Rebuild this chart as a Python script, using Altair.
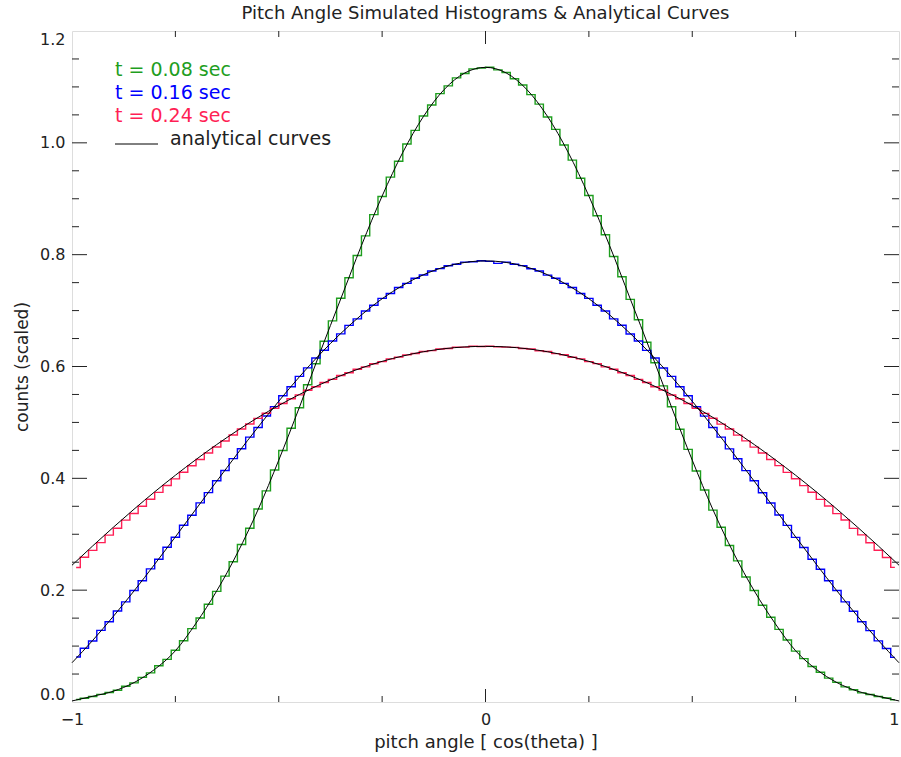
import altair as alt
import pandas as pd

FONT = "DejaVu Sans"
INK = "#222222"

# ---------------- data ----------------
# histogram bin centres (100 bins of width 0.02 on [-1, 1]) and curve sample points
hist_x = [round(-0.99 + 0.02 * i, 2) for i in range(100)]
curve_x = [round(-1.0 + 0.05 * i, 2) for i in range(41)]

series_labels = ["t = 0.08 sec", "t = 0.16 sec", "t = 0.24 sec"]
series_colors = ["#1e9e1e", "#0000ff", "#ff1f55"]

hist_008 = [
    0.0045, 0.0068, 0.0098, 0.0136, 0.0171, 0.0210, 0.0281, 0.0342, 0.0440, 0.0521,
    0.0648, 0.0762, 0.0925, 0.1095, 0.1312, 0.1502, 0.1748, 0.1979, 0.2251, 0.2507,
    0.2817, 0.3108, 0.3452, 0.3776, 0.4150, 0.4498, 0.4895, 0.5261, 0.5673, 0.6049,
    0.6452, 0.6816, 0.7221, 0.7588, 0.7985, 0.8336, 0.8716, 0.9039, 0.9386, 0.9671,
    0.9978, 1.0222, 1.0481, 1.0676, 1.0880, 1.1018, 1.1162, 1.1241, 1.1322, 1.1338,
    1.1352, 1.1305, 1.1258, 1.1146, 1.1035, 1.0862, 1.0693, 1.0463, 1.0241, 0.9960,
    0.9690, 0.9366, 0.9057, 0.8696, 0.8355, 0.7968, 0.7606, 0.7201, 0.6835, 0.6434,
    0.6067, 0.5653, 0.5280, 0.4878, 0.4517, 0.4132, 0.3792, 0.3431, 0.3126, 0.2800,
    0.2523, 0.2236, 0.1994, 0.1730, 0.1516, 0.1298, 0.1108, 0.0910, 0.0776, 0.0635,
    0.0532, 0.0427, 0.0351, 0.0270, 0.0220, 0.0163, 0.0133, 0.0099, 0.0072, 0.0039,
]
hist_016 = [
    0.0805, 0.0962, 0.1092, 0.1281, 0.1436, 0.1628, 0.1790, 0.1995, 0.2168, 0.2380,
    0.2552, 0.2768, 0.2946, 0.3160, 0.3341, 0.3562, 0.3744, 0.3957, 0.4139, 0.4352,
    0.4528, 0.4737, 0.4909, 0.5114, 0.5282, 0.5476, 0.5638, 0.5824, 0.5975, 0.6151,
    0.6290, 0.6455, 0.6583, 0.6736, 0.6852, 0.6992, 0.7096, 0.7219, 0.7306, 0.7413,
    0.7486, 0.7577, 0.7636, 0.7709, 0.7750, 0.7803, 0.7829, 0.7866, 0.7872, 0.7891,
    0.7880, 0.7845, 0.7866, 0.7828, 0.7804, 0.7748, 0.7709, 0.7634, 0.7578, 0.7486,
    0.7414, 0.7306, 0.7219, 0.7095, 0.6993, 0.6851, 0.6737, 0.6582, 0.6456, 0.6289,
    0.6151, 0.5974, 0.5823, 0.5637, 0.5477, 0.5281, 0.5113, 0.4908, 0.4737, 0.4527,
    0.4350, 0.4138, 0.3956, 0.3742, 0.3560, 0.3343, 0.3159, 0.2945, 0.2764, 0.2553,
    0.2375, 0.2168, 0.1993, 0.1790, 0.1624, 0.1436, 0.1277, 0.1094, 0.0958, 0.0798,
]
hist_024 = [
    0.2405, 0.2588, 0.2712, 0.2851, 0.2985, 0.3108, 0.3252, 0.3371, 0.3502, 0.3626,
    0.3748, 0.3872, 0.3990, 0.4108, 0.4225, 0.4338, 0.4452, 0.4561, 0.4668, 0.4775,
    0.4881, 0.4972, 0.5072, 0.5163, 0.5251, 0.5339, 0.5422, 0.5492, 0.5576, 0.5639,
    0.5713, 0.5770, 0.5838, 0.5889, 0.5951, 0.5994, 0.6049, 0.6088, 0.6136, 0.6167,
    0.6208, 0.6232, 0.6267, 0.6284, 0.6312, 0.6322, 0.6343, 0.6347, 0.6361, 0.6357,
    0.6363, 0.6354, 0.6346, 0.6342, 0.6322, 0.6313, 0.6283, 0.6268, 0.6231, 0.6209,
    0.6166, 0.6137, 0.6087, 0.6051, 0.5993, 0.5952, 0.5888, 0.5839, 0.5769, 0.5714,
    0.5638, 0.5577, 0.5491, 0.5423, 0.5338, 0.5252, 0.5162, 0.5074, 0.4970, 0.4883,
    0.4773, 0.4670, 0.4559, 0.4454, 0.4336, 0.4227, 0.4106, 0.3993, 0.3869, 0.3751,
    0.3623, 0.3505, 0.3368, 0.3255, 0.3105, 0.2988, 0.2848, 0.2715, 0.2585, 0.2408,
]

curve_008 = [
    0.0019, 0.0102, 0.0193, 0.0347, 0.0584, 0.0916, 0.1409, 0.1987, 0.2664, 0.3440,
    0.4325, 0.5272, 0.6254, 0.7210, 0.8163, 0.9048, 0.9829, 1.0472, 1.0953, 1.1250,
    1.1350,
    1.1250, 1.0953, 1.0472, 0.9829, 0.9048, 0.8163, 0.7210, 0.6254, 0.5272, 0.4325,
    0.3440, 0.2664, 0.1987, 0.1409, 0.0916, 0.0584, 0.0347, 0.0193, 0.0102, 0.0019,
]
curve_016 = [
    0.0702, 0.1101, 0.1532, 0.1986, 0.2464, 0.2953, 0.3452, 0.3948, 0.4440, 0.4917,
    0.5379, 0.5816, 0.6222, 0.6591, 0.6923, 0.7212, 0.7451, 0.7641, 0.7778, 0.7861,
    0.7888,
    0.7861, 0.7778, 0.7641, 0.7451, 0.7212, 0.6923, 0.6591, 0.6222, 0.5816, 0.5379,
    0.4917, 0.4440, 0.3948, 0.3452, 0.2953, 0.2464, 0.1986, 0.1532, 0.1101, 0.0702,
]
curve_024 = [
    0.2446, 0.2791, 0.3125, 0.3448, 0.3759, 0.4055, 0.4337, 0.4604, 0.4855, 0.5089,
    0.5303, 0.5500, 0.5678, 0.5836, 0.5974, 0.6092, 0.6188, 0.6264, 0.6318, 0.6350,
    0.6360,
    0.6350, 0.6318, 0.6264, 0.6188, 0.6092, 0.5974, 0.5836, 0.5678, 0.5500, 0.5303,
    0.5089, 0.4855, 0.4604, 0.4337, 0.4055, 0.3759, 0.3448, 0.3125, 0.2791, 0.2446,
]

# axis tick values
x_label_values = [-1, 0, 1]
x_major_ticks = [0.0]
x_minor_ticks = [-0.75, -0.5, -0.25, 0.25, 0.5, 0.75]
y_label_values = [0.0, 0.2, 0.4, 0.6, 0.8, 1.0, 1.2]
y_major_ticks = [0.2, 0.4, 0.6, 0.8, 1.0]
y_minor_ticks = [0.05, 0.10, 0.15, 0.25, 0.30, 0.35, 0.45, 0.50, 0.55,
                 0.65, 0.70, 0.75, 0.85, 0.90, 0.95, 1.05, 1.10, 1.15]

title_text = "Pitch Angle Simulated Histograms & Analytical Curves"
x_title = "pitch angle [ cos(theta) ]"
y_title = "counts (scaled)"
curve_label = "analytical curves"

# ---------------- tables ----------------
hist_df = pd.DataFrame({
    "x": hist_x * 3,
    "v": hist_008 + hist_016 + hist_024,
    "series": [series_labels[0]] * 100 + [series_labels[1]] * 100 + [series_labels[2]] * 100,
})
curve_df = pd.DataFrame({
    "x": curve_x * 3,
    "v": curve_008 + curve_016 + curve_024,
    "series": [series_labels[0]] * 41 + [series_labels[1]] * 41 + [series_labels[2]] * 41,
})

W, H = 827, 671

xscale = alt.Scale(domain=[-1, 1], nice=False, zero=False)
yscale = alt.Scale(domain=[0, 1.2], nice=False, zero=False)

x_axis = alt.Axis(
    values=x_label_values, format=".0f", ticks=False, domain=False, grid=False,
    labelFlush=False, labelOverlap=False, labelFont=FONT, labelFontSize=16,
    labelColor=INK, labelPadding=9,
    labelAlign={"condition": {"test": "datum.value > 0.5", "value": "right"}, "value": "center"},
    title=x_title, titleFont=FONT, titleFontSize=18, titleFontWeight="normal",
    titleColor=INK, titlePadding=6,
)
y_axis = alt.Axis(
    values=y_label_values, format=".1f", ticks=False, domain=False, grid=False,
    labelFlush=True, labelOverlap=False, labelFont=FONT, labelFontSize=16,
    labelColor=INK, labelPadding=7,
    title=y_title, titleFont=FONT, titleFontSize=17, titleFontWeight="normal",
    titleColor=INK, titlePadding=8,
)


def X(field):
    return alt.X(field, type="quantitative", scale=xscale, axis=x_axis)


def Y(field):
    return alt.Y(field, type="quantitative", scale=yscale, axis=y_axis)


color = alt.Color("series:N", scale=alt.Scale(domain=series_labels, range=series_colors), legend=None)

hist = alt.Chart(hist_df).mark_line(interpolate="step", strokeWidth=1.4).encode(
    x=X("x"), y=Y("v"), color=color, detail="series:N",
)
curves = alt.Chart(curve_df).mark_line(interpolate="monotone", strokeWidth=1.0, color="black").encode(
    x=X("x"), y=Y("v"), detail="series:N",
)


def y_ticks(values, length):
    df = pd.DataFrame({"v": values})
    left = alt.Chart(df).mark_rule(color=INK, strokeWidth=1).encode(
        y=Y("v"), x=alt.value(0), x2=alt.value(length))
    right = alt.Chart(df).mark_rule(color=INK, strokeWidth=1).encode(
        y=Y("v"), x=alt.value(W), x2=alt.value(W - length))
    return [left, right]


def x_ticks(values, length):
    df = pd.DataFrame({"x": values})
    bottom = alt.Chart(df).mark_rule(color=INK, strokeWidth=1).encode(
        x=X("x"), y=alt.value(H), y2=alt.value(H - length))
    top = alt.Chart(df).mark_rule(color=INK, strokeWidth=1).encode(
        x=X("x"), y=alt.value(0), y2=alt.value(length))
    return [bottom, top]


tick_layers = (y_ticks(y_major_ticks, 15) + y_ticks(y_minor_ticks, 7)
               + x_ticks(x_major_ticks, 13) + x_ticks(x_minor_ticks, 6))

legend_layers = []
for i, (lab, col) in enumerate(zip(series_labels, series_colors)):
    legend_layers.append(
        alt.Chart(pd.DataFrame({"t": [lab]})).mark_text(
            align="left", baseline="alphabetic", font=FONT, fontSize=19, color=col
        ).encode(text="t:N", x=alt.value(43), y=alt.value(45 + 23 * i))
    )
legend_layers.append(
    alt.Chart(pd.DataFrame({"t": [curve_label]})).mark_text(
        align="left", baseline="alphabetic", font=FONT, fontSize=19, color=INK
    ).encode(text="t:N", x=alt.value(98), y=alt.value(114))
)
legend_layers.append(
    alt.Chart(pd.DataFrame({"t": [curve_label]})).mark_rule(color="black", strokeWidth=1).encode(
        x=alt.value(43), x2=alt.value(86), y=alt.value(113))
)

title_layer = alt.Chart(pd.DataFrame({"t": [title_text]})).mark_text(
    align="center", baseline="alphabetic", font=FONT, fontSize=18, color=INK
).encode(text="t:N", x=alt.value(W / 2), y=alt.value(-12))

chart = alt.layer(hist, curves, *tick_layers, *legend_layers, title_layer).properties(
    width=W,
    height=H,
    padding={"left": 72, "top": 31, "right": 2, "bottom": 55},
    autosize=alt.AutoSizeParams(type="none"),
).configure_view(stroke="#333333", strokeWidth=1.2).configure(background="white")

chart.save("out.html", embed_options={"renderer": "svg", "actions": False})
